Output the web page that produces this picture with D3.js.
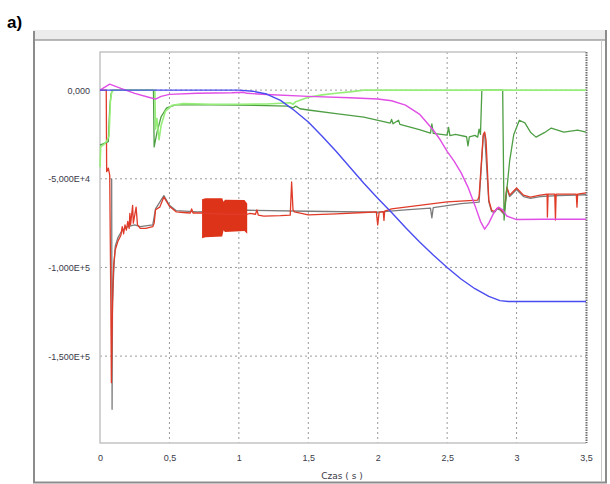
<!DOCTYPE html>
<html>
<head>
<meta charset="utf-8">
<script src="https://cdn.jsdelivr.net/npm/d3@7"></script>
<style>
  body { margin: 0; background: #fff; }
  svg { display: block; font-family: "DejaVu Sans", sans-serif; }
  .tick text { font-size: 9px; fill: #3a3a48; }
  .grid line { stroke: #9a9a9a; stroke-dasharray: 2,3; }
  .series { fill: none; stroke-linejoin: round; }
</style>
</head>
<body>
<div id="main"></div>
<script>
// dimensions
const svg_width = 610,
    svg_height = 484;
const plot = {left: 100, right: 586, top: 52, bottom: 443};

// ticks
const xTicks = [0, 0.5, 1, 1.5, 2, 2.5, 3, 3.5];
const xTickLabels = ["0", "0,5", "1", "1,5", "2", "2,5", "3", "3,5"];
const yTicks = [0, -50000, -100000, -150000];
const yTickLabels = ["0,000", "-5,000E+4", "-1,000E+5", "-1,500E+5"];

// series, [time (s), value]
const blueData = [[0,0],[1.0,0],[1.1,-600],[1.2,-2200],[1.3,-5800],[1.4,-11500],[1.5,-18000],[1.6,-26000],
    [1.7,-34500],[1.8,-43500],[1.9,-52500],[2.0,-61000],[2.1,-69000],[2.2,-77500],[2.3,-85500],[2.4,-93000],
    [2.5,-100000],[2.6,-106500],[2.7,-112000],[2.8,-116300],[2.88,-118700],[2.94,-119200],[3.5,-119200]];

const magentaData = [[0,0],[0.07,3400],[0.15,1000],[0.25,-1800],[0.35,-4000],[0.4,-5100],[0.44,-3500],
    [0.5,-2400],[0.7,-1800],[0.95,-1500],[1.03,-1200],[1.06,-1800],[1.2,-2500],[1.5,-3500],[1.8,-4300],[2.0,-5000],
    [2.1,-6000],[2.2,-8500],[2.3,-13500],[2.4,-22500],[2.45,-28000],[2.5,-34500],[2.55,-40000],[2.6,-46500],
    [2.65,-54700],[2.7,-65000],[2.74,-74000],[2.77,-78400],[2.8,-75000],[2.84,-68500],[2.87,-66000],
    [2.9,-67500],[2.93,-71000],[3.0,-73000],[3.2,-72800],[3.5,-72800]];

const lightGreenData = [[0,-43500],[0.005,-32000],[0.03,-30500],[0.05,-28500],[0.065,-26000],[0.075,-6000],
    [0.085,-1000],[0.1,0],[0.395,0],[0.4,-22000],[0.41,-16000],[0.425,-28000],[0.44,-20000],[0.47,-12000],
    [0.52,-8500],[0.6,-7600],[0.8,-8000],[1.0,-8000],[1.2,-7800],[1.37,-7100],[1.39,-8000],[1.41,-6500],
    [1.5,-4000],[1.6,-2700],[1.7,-1800],[1.8,-1000],[1.9,0],[3.5,0]];

const darkGreenData = [[0,-31000],[0.03,-30000],[0.06,-29000],[0.07,-10000],[0.08,-2000],[0.09,0],[0.385,0],
    [0.39,-32000],[0.41,-24000],[0.44,-15000],[0.48,-10000],[0.55,-8200],[0.8,-8300],[1.0,-8500],[1.2,-8700],
    [1.35,-9000],[1.39,-10000],[1.41,-9000],[1.44,-10500],[1.5,-11200],[1.7,-13300],[1.9,-15200],[2.09,-18600],
    [2.1,-16500],[2.11,-19000],[2.15,-17000],[2.16,-19300],[2.3,-22300],[2.38,-24300],[2.39,-19000],[2.4,-24400],
    [2.5,-25400],[2.51,-21000],[2.52,-25600],[2.56,-25000],[2.64,-26300],[2.65,-31500],[2.66,-26300],[2.7,-25500],
    [2.72,-26500],[2.73,-22000],[2.74,-25000],[2.75,0],[2.9,0],[2.91,-73300],[2.925,-60000],[2.95,-40000],
    [2.98,-25000],[3.02,-17000],[3.06,-18500],[3.1,-23700],[3.14,-26500],[3.2,-24000],[3.25,-21400],
    [3.34,-23700],[3.44,-22500],[3.5,-23700]];

const redData = [[0,0],[0.045,0],[0.048,-46000],[0.06,-44000],[0.07,-48000],[0.078,-120000],[0.082,-165000],
    [0.088,-130000],[0.095,-105000],[0.1,-97000],[0.11,-90000],[0.13,-85000],[0.15,-82000],[0.16,-77000],
    [0.17,-81000],[0.18,-76000],[0.19,-79000],[0.2,-74000],[0.21,-78000],[0.215,-69500],[0.22,-76000],
    [0.235,-65000],[0.24,-75000],[0.26,-66000],[0.27,-76000],[0.29,-78000],[0.33,-78000],[0.38,-77000],
    [0.39,-75000],[0.4,-67500],[0.43,-66000],[0.46,-60300],[0.5,-65500],[0.55,-68700],[0.6,-69000],
    [0.65,-69300],[0.66,-67000],[0.67,-69300],[0.735,-69300],[0.9,-70000],[1.06,-70000],[1.08,-69500],
    [1.12,-70000],[1.13,-67500],[1.14,-70500],[1.18,-71000],[1.3,-70800],[1.37,-70500],[1.38,-51800],
    [1.39,-67500],[1.4,-68700],[1.5,-70400],[1.7,-69800],[1.9,-69000],[1.99,-68700],[2.0,-76000],[2.01,-69000],
    [2.04,-68500],[2.045,-73500],[2.05,-68300],[2.1,-67000],[2.3,-65000],[2.5,-63000],[2.72,-62000],
    [2.73,-60000],[2.76,-25000],[2.77,-23600],[2.78,-28000],[2.8,-62000],[2.82,-67600],[2.84,-68500],
    [2.86,-66500],[2.88,-66800],[2.91,-69300],[2.93,-54700],[2.95,-59200],[3.0,-55200],[3.05,-59200],
    [3.1,-60300],[3.17,-59200],[3.22,-58600],[3.222,-71600],[3.227,-58600],[3.275,-58600],[3.28,-73300],
    [3.285,-58600],[3.43,-58600],[3.435,-66000],[3.44,-58600],[3.5,-58000]];

// envelope of the fast oscillation on the red trace
const redBlockTop = [[0.735,-61500],[0.76,-61000],[0.88,-61000],[0.89,-63000],[0.9,-61800],[1.04,-62000],[1.06,-64000]];
const redBlockBottom = [[0.735,-83500],[0.8,-83000],[0.88,-82500],[0.89,-79000],[0.9,-80000],[1.04,-79500],[1.06,-81000]];

const greyData = [[0.084,-50000],[0.087,-180000],[0.09,-120000],[0.1,-100000],[0.11,-88000],[0.13,-83000],
    [0.16,-79000],[0.2,-77000],[0.25,-76000],[0.29,-77000],[0.38,-76000],[0.4,-67000],[0.46,-59500],
    [0.5,-65000],[0.55,-68000],[0.7,-68700],[1.06,-67700],[1.5,-68300],[2.0,-68800],[2.2,-67500],
    [2.38,-66500],[2.39,-72000],[2.4,-66300],[2.6,-64000],[2.73,-63200],[2.76,-26000],[2.77,-24500],
    [2.8,-63000],[2.82,-68500],[2.84,-69000],[2.86,-67000],[2.88,-67500],[2.91,-70000],[2.93,-55500],
    [2.95,-60000],[3.0,-56000],[3.05,-60000],[3.1,-61000],[3.17,-60000],[3.3,-59500],[3.5,-59000]];

var svg = d3.select("#main").append("svg")
    .attr("width", svg_width)
    .attr("height", svg_height);

// panel label
svg.append("text")
    .attr("x", 7).attr("y", 28)
    .style("font-family", "'Liberation Sans', Arial, sans-serif")
    .style("font-weight", "bold").style("font-size", "17px")
    .text("a)");

// window frame around the chart
svg.append("rect").attr("x", 33).attr("y", 30).attr("width", 574).attr("height", 10).attr("fill", "#ececec");
svg.append("line").attr("x1", 33).attr("x2", 607).attr("y1", 40).attr("y2", 40).attr("stroke", "#a0a0a0").attr("stroke-width", 1.5);
svg.append("line").attr("x1", 34).attr("x2", 34).attr("y1", 31).attr("y2", 483).attr("stroke", "#8c8c8c").attr("stroke-width", 2);
svg.append("line").attr("x1", 33).attr("x2", 607).attr("y1", 482.5).attr("y2", 482.5).attr("stroke", "#8c8c8c").attr("stroke-width", 2);
svg.append("line").attr("x1", 601.5).attr("x2", 601.5).attr("y1", 40).attr("y2", 482).attr("stroke", "#c8c8c8").attr("stroke-width", 1);
svg.append("line").attr("x1", 606).attr("x2", 606).attr("y1", 30).attr("y2", 483).attr("stroke", "#8c8c8c").attr("stroke-width", 2);

/** scales **/
var xScale = d3.scaleLinear().domain([0, 3.5]).range([plot.left, plot.right]);
var yScale = d3.scaleLinear().domain([-199000, 21500]).range([plot.bottom, plot.top]);

// dotted grid
svg.append("g").attr("class", "grid")
    .selectAll("line.vx").data(xTicks.slice(1, -1)).enter().append("line")
    .attr("x1", d => xScale(d)).attr("x2", d => xScale(d))
    .attr("y1", plot.top).attr("y2", plot.bottom);
svg.append("g").attr("class", "grid")
    .selectAll("line.hy").data(yTicks).enter().append("line")
    .attr("x1", plot.left).attr("x2", plot.right)
    .attr("y1", d => yScale(d)).attr("y2", d => yScale(d));

// plot border
svg.append("path")
    .attr("d", `M${plot.right},${plot.top}H${plot.left}V${plot.bottom}H${plot.right}`)
    .attr("fill", "none").attr("stroke", "#c4c4c4").attr("stroke-width", 1.5);
svg.append("line")
    .attr("x1", plot.right + 0.5).attr("x2", plot.right + 0.5)
    .attr("y1", plot.top).attr("y2", plot.bottom)
    .attr("stroke", "#6e6e6e").attr("stroke-width", 2).attr("stroke-dasharray", "1.5,1");

// axes (labels only)
var xAxis = svg.append("g")
    .attr("transform", `translate(0,${plot.bottom + 9})`)
    .call(d3.axisBottom(xScale).tickValues(xTicks).tickFormat((d, i) => xTickLabels[i]).tickSize(0));
var yAxis = svg.append("g")
    .attr("transform", `translate(${plot.left - 10},0)`)
    .call(d3.axisLeft(yScale).tickValues(yTicks).tickFormat((d, i) => yTickLabels[i]).tickSize(0));
svg.selectAll(".domain").remove();
yAxis.selectAll("text").attr("x", 0);

svg.append("text")
    .attr("x", 342).attr("y", 479)
    .attr("text-anchor", "middle")
    .style("font-size", "9px").style("fill", "#3a3a48")
    .text("Czas ( s )");

/** traces **/
var line = d3.line()
    .x(d => xScale(d[0]))
    .y(d => yScale(d[1]));

var g = svg.append("g");

g.append("path").datum(greyData).attr("class", "series")
    .attr("stroke", "#5a5a5a").attr("stroke-opacity", 0.8).attr("stroke-width", 1.3).attr("d", line);

g.append("path").datum(redBlockTop.map((d, i) => [d[0], d[1], redBlockBottom[i][1]]))
    .attr("fill", "#dd3318")
    .attr("d", d3.area().x(d => xScale(d[0])).y0(d => yScale(d[2])).y1(d => yScale(d[1])));

g.append("path").datum(redData).attr("class", "series")
    .attr("stroke", "#e03a28").attr("stroke-width", 1.3).attr("d", line);

g.append("path").datum(darkGreenData).attr("class", "series")
    .attr("stroke", "#4e9e44").attr("stroke-width", 1.3).attr("d", line);

g.append("path").datum(lightGreenData).attr("class", "series")
    .attr("stroke", "#96ee78").attr("stroke-width", 1.6).attr("d", line);

g.append("path").datum(magentaData).attr("class", "series")
    .attr("stroke", "#e04ee6").attr("stroke-width", 1.4).attr("d", line);

g.append("path").datum(blueData).attr("class", "series")
    .attr("stroke", "#4a4cf0").attr("stroke-width", 1.4).attr("d", line);
</script>
</body>
</html>
